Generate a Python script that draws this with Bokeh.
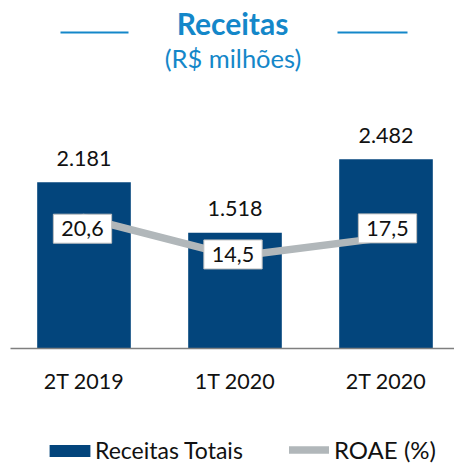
from bokeh.plotting import figure
from bokeh.models import (Range1d, LabelSet, Label, ColumnDataSource, Legend, LegendItem)
from bokeh.core.properties import value
from bokeh.embed import file_html
from bokeh.resources import INLINE

# ---------------- data ----------------
categories = ["2T 2019", "1T 2020", "2T 2020"]
receitas = [2181, 1518, 2482]
roae = [20.6, 14.5, 17.5]
receitas_labels = ["2.181", "1.518", "2.482"]
roae_labels = ["20,6", "14,5", "17,5"]

# ---------------- style / layout ----------------
FONT = "Lato"
BAR_BLUE = "#03457C"
TITLE_BLUE = "#1487C9"
LINE_GRAY = "#B1B7BA"
AXIS_GRAY = "#7F7F7F"
TXT = "#111111"

W, H = 454, 467
PX_PER_CAT = 151.0
X0 = -83.5 / PX_PER_CAT          # first category centred at 83.5 px
BASE_PX = 348                     # baseline (value 0) in px from top
PX_PER_REC = 0.0762
PX_PER_ROAE = 6.35


def px2x(px):
    return X0 + px / PX_PER_CAT


def py2y(py):
    return (BASE_PX - py) / PX_PER_REC


xs = list(range(len(categories)))
src = ColumnDataSource(dict(x=xs, rec=receitas, roae=roae, cat=categories,
                            rec_lbl=receitas_labels, roae_lbl=roae_labels))

p = figure(width=W, height=H, output_backend="svg", toolbar_location=None,
           x_range=Range1d(X0, X0 + W / PX_PER_CAT),
           y_range=Range1d(-(H - BASE_PX) / PX_PER_REC, BASE_PX / PX_PER_REC),
           min_border=0, min_border_left=0, min_border_right=0,
           min_border_top=0, min_border_bottom=0,
           x_axis_location=None, y_axis_location=None)
p.extra_y_ranges = {"roae": Range1d(-(H - BASE_PX) / PX_PER_ROAE, BASE_PX / PX_PER_ROAE)}
p.xgrid.visible = False
p.ygrid.visible = False
p.outline_line_color = None
p.background_fill_color = "white"
p.border_fill_color = "white"

bars = p.vbar(x="x", top="rec", width=0.62, source=src, fill_color=BAR_BLUE,
              line_color=None)
line = p.line(x="x", y="roae", source=src, y_range_name="roae",
              line_width=7.5, line_color=LINE_GRAY, line_cap="round")

# category axis: baseline + category labels
p.segment(x0=[px2x(10)], y0=[0], x1=[px2x(W)], y1=[0],
          line_color=AXIS_GRAY, line_width=1.5)
p.add_layout(LabelSet(x="x", y=0, text="cat", source=src, y_offset=-32,
                      text_align="center", text_baseline="middle",
                      text_font=value(FONT), text_font_size="21.5px", text_color=TXT))

# value labels above bars
p.add_layout(LabelSet(x="x", y="rec", text="rec_lbl", source=src, y_offset=24,
                      text_align="center", text_baseline="middle",
                      text_font=value(FONT), text_font_size="21.5px", text_color=TXT))

# ROAE boxed labels
box_dx = [-1.5, -2, 1.5]
box_dy = [-11, 2, 9]
for i in xs:
    p.add_layout(Label(x=xs[i], y=roae[i], y_range_name="roae", text=roae_labels[i],
                       x_offset=box_dx[i], y_offset=box_dy[i],
                       text_align="center", text_baseline="middle",
                       text_font=FONT, text_font_size="21.5px", text_color=TXT,
                       background_fill_color="white", border_line_color="#BFBFBF",
                       border_line_width=1, padding=(8, 7)))

# title block
p.add_layout(Label(x=px2x(232), y=py2y(22), text="Receitas", text_align="center",
                   text_baseline="middle", text_font=FONT, text_font_style="bold",
                   text_font_size="30px", text_color=TITLE_BLUE))
p.add_layout(Label(x=px2x(232.5), y=py2y(57), text="(R$ milhões)", text_align="center",
                   text_baseline="middle", text_font=FONT,
                   text_font_size="25.5px", text_color=TITLE_BLUE))
p.segment(x0=[px2x(60), px2x(337)], y0=[py2y(32), py2y(32)],
          x1=[px2x(128), px2x(407)], y1=[py2y(32), py2y(32)],
          line_color=TITLE_BLUE, line_width=2)

# legends
common = dict(padding=0, margin=0, border_line_color=None, background_fill_alpha=0,
              label_text_color=TXT, label_text_font=FONT,
              label_height=20, glyph_height=15)
leg1 = Legend(items=[LegendItem(label="Receitas Totais", renderers=[bars])],
              location=(44, 3), glyph_width=51, label_standoff=0,
              label_text_font_size="23px", **common)
leg2 = Legend(items=[LegendItem(label="ROAE (%)", renderers=[line])],
              location=(289, 3), glyph_width=40, label_standoff=5,
              label_text_font_size="24px", **common)
p.add_layout(leg1, "center")
p.add_layout(leg2, "center")

open("out.html", "w").write(file_html(p, INLINE))
